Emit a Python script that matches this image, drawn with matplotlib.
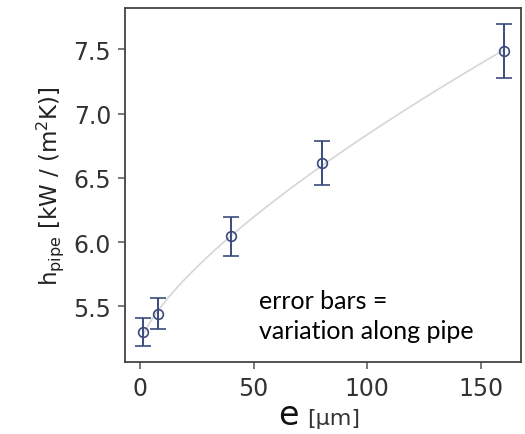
import matplotlib.pyplot as plt
import numpy as np

# roughness e [um] vs heat transfer coefficient h_pipe [kW/(m2K)]
e_um = [1.5, 8, 40, 80, 160]
h_pipe = [5.30, 5.445, 6.045, 6.615, 7.485]
h_err = [0.11, 0.12, 0.15, 0.17, 0.21]

x_ticks = [0, 50, 100, 150]
y_ticks = [5.5, 6.0, 6.5, 7.0, 7.5]

fig = plt.figure(figsize=(5.25, 4.35), dpi=100)
ax = fig.add_axes([0.238, 0.1655, 0.754, 0.8145])

# trend line: least squares fit h = a + b * e**c (best c from a grid)
ex = np.array(e_um)
best = None
for c in np.linspace(0.3, 1.2, 91):
    coef = np.polyfit(ex ** c, h_pipe, 1)
    res = np.sum((np.polyval(coef, ex ** c) - h_pipe) ** 2)
    if best is None or res < best[0]:
        best = (res, c, coef)
_, c_fit, coef_fit = best
xs = np.linspace(min(e_um), max(e_um), 200)
ax.plot(xs, np.polyval(coef_fit, xs ** c_fit), color='#d6d6d6', lw=1.2, zorder=1)

ax.errorbar(e_um, h_pipe, yerr=h_err, fmt='o', mfc='none', mec='#3b4a7d',
            ecolor='#3b4a7d', ms=7, mew=1.2, elinewidth=1.4, capsize=6,
            capthick=1.4, zorder=3)

ax.set_xlim(-6.6, 167.6)
ax.set_ylim(5.068, 7.824)
ax.set_xticks(x_ticks)
ax.set_yticks(y_ticks)
ax.set_yticklabels([f'{v:.1f}' for v in y_ticks])

for s in ax.spines.values():
    s.set_color('#444444')
    s.set_linewidth(1.3)
ax.tick_params(direction='out', length=5, width=1.1, color='#555555',
               labelsize=17, labelcolor='#333333', pad=5)

ax.set_ylabel(r'h$_\mathregular{pipe}$ [kW / (m$^\mathregular{2}$K)]',
              fontsize=16.5, color='#222222', labelpad=5)
fig.text(0.568, 0.022, 'e', fontsize=24, color='#111111', ha='right', va='baseline')
fig.text(0.585, 0.022, '[µm]', fontsize=16, color='#333333', ha='left', va='baseline')

ax.text(0.338, 0.068, 'error bars =\nvariation along pipe', transform=ax.transAxes,
        fontsize=18, family='Lato', color='black', linespacing=1.35,
        ha='left', va='baseline')

fig.savefig('out.png', dpi=100)
